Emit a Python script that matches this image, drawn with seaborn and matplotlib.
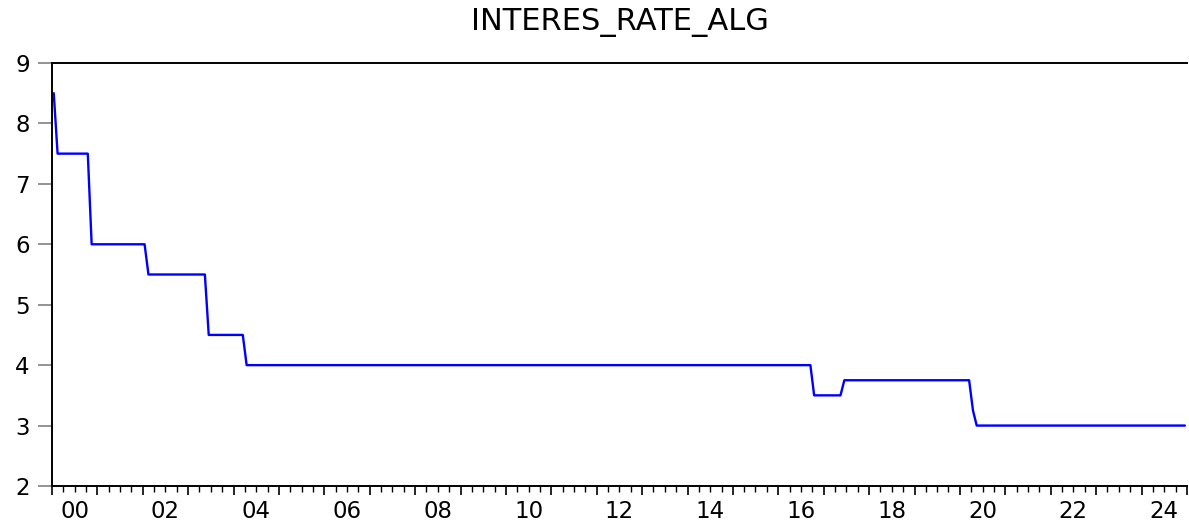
import numpy as np
import pandas as pd
import matplotlib.pyplot as plt
import matplotlib.dates as mdates
import seaborn as sns

# Bank of Algeria rediscount rate, monthly (step changes)
change_dates = ['2000-01', '2000-02', '2000-11', '2002-02', '2003-06',
                '2004-04', '2016-10', '2017-06', '2020-04', '2020-05']
change_rates = [8.5, 7.5, 6.0, 5.5, 4.5, 4.0, 3.5, 3.75, 3.25, 3.0]
last_month = '2024-12'

year_labels = ['00', '02', '04', '06', '08', '10', '12',
               '14', '16', '18', '20', '22', '24']

#--------------------------- build monthly series ---------------------------#
months = pd.period_range(change_dates[0], last_month, freq='M')
steps = pd.Series(change_rates, index=pd.PeriodIndex(change_dates, freq='M'))
rate = steps.reindex(months).ffill()  # rate stays until the next decision

df = pd.DataFrame({
    'Date': months.to_timestamp() + pd.Timedelta(days=14),  # mid-month
    'Value': rate.values
})

#------------------------------- plotting -----------------------------------#
sns.set_style('white')
plt.rcParams['font.family'] = ['DejaVu Sans']
plt.rcParams['text.color'] = 'black'
plt.rcParams['xtick.labelcolor'] = 'black'
plt.rcParams['ytick.labelcolor'] = 'black'

fig = plt.figure(figsize=(11.89, 5.25), dpi=100)
ax = fig.add_axes([52 / 1189, 1 - 486 / 525, 1135 / 1189, 423 / 525])

sns.lineplot(data=df, x='Date', y='Value', color='#0000ff', linewidth=1.7, ax=ax)

ax.set_xlim(pd.Timestamp('2000-01-01'), pd.Timestamp('2025-01-01'))
ax.set_ylim(2, 9)
ax.set_xlabel('')
ax.set_ylabel('')
ax.set_title('INTERES_RATE_ALG', fontsize=22, pad=24, color='black')

# y axis: grey outward ticks
ax.set_yticks(range(2, 10))
ax.tick_params(axis='y', length=10, width=1.2, color='#808080', pad=6,
               labelsize=16.5, labelcolor='black', left=True)

# x axis: year ticks, quarter minor ticks, labels in the middle of even years
ax.xaxis.set_major_locator(mdates.YearLocator(1))
ax.xaxis.set_minor_locator(mdates.MonthLocator(bymonth=[4, 7, 10]))
ax.xaxis.set_major_formatter(plt.NullFormatter())
ax.tick_params(axis='x', which='major', length=6.8, width=1.2, color='black',
               bottom=True, direction='out')
ax.tick_params(axis='x', which='minor', length=4.0, width=1.0, color='black',
               bottom=True, direction='out')

lab_ax = ax.secondary_xaxis('bottom')
lab_pos = [pd.Timestamp(f'20{y}-07-01') for y in year_labels]
lab_ax.set_xticks(lab_pos)
lab_ax.set_xticklabels(year_labels)
lab_ax.tick_params(axis='x', length=0, pad=10, labelsize=16.5, labelcolor='black')
lab_ax.spines['bottom'].set_visible(False)

for side in ['left', 'bottom', 'top']:
    ax.spines[side].set_color('black')
    ax.spines[side].set_linewidth(1.4)
ax.spines['right'].set_visible(False)

fig.savefig('out.png', dpi=100)
